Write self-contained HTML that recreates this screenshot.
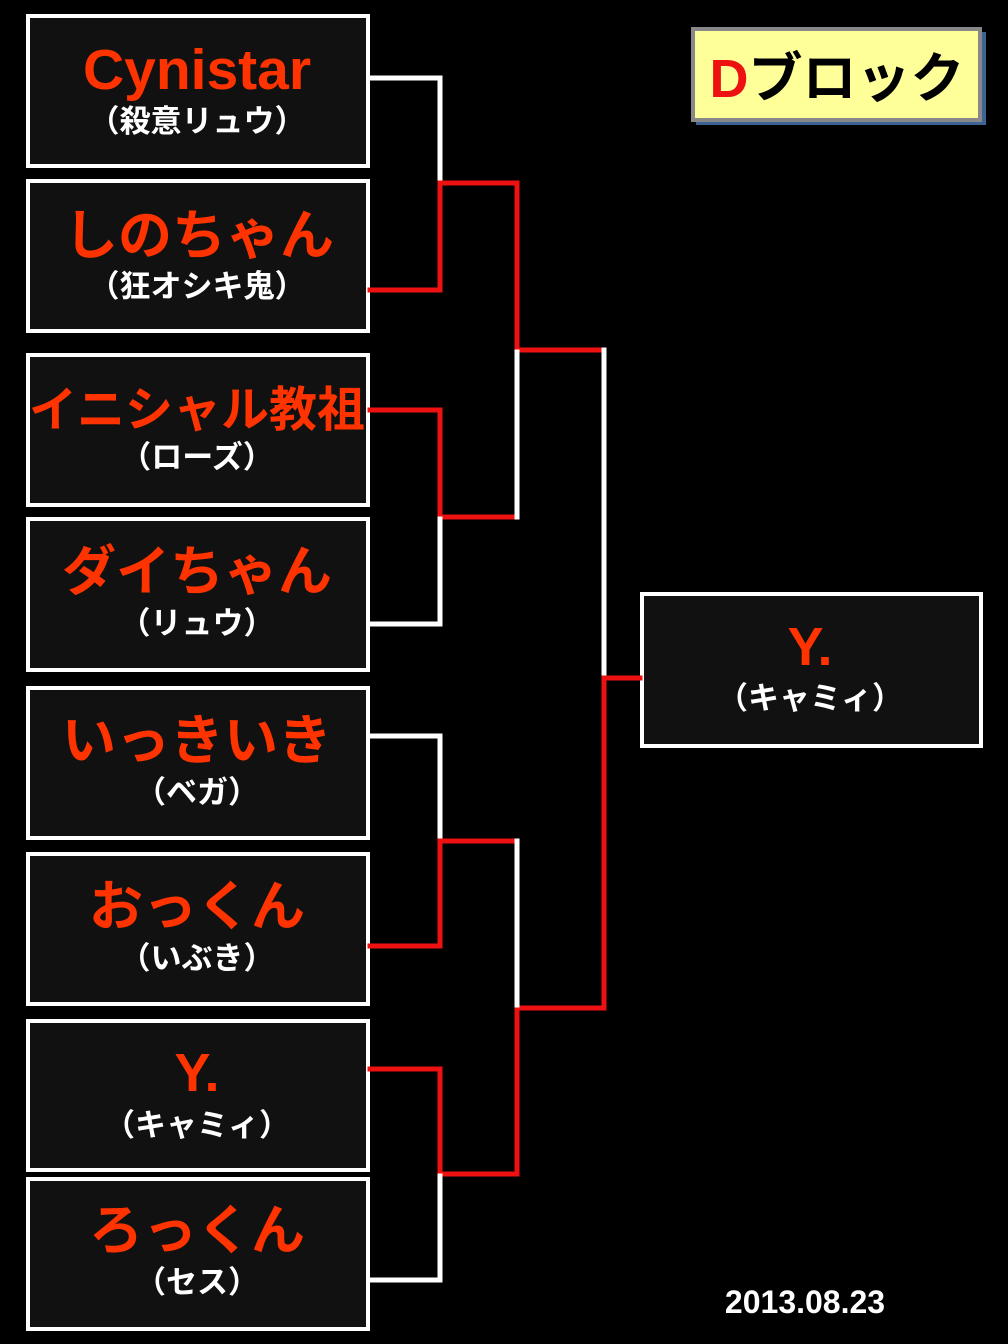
<!DOCTYPE html>
<html><head><meta charset="utf-8"><style>
html,body{margin:0;padding:0;background:#000;}
svg{display:block}
.n{font-family:"Liberation Sans","Noto Sans CJK JP",sans-serif;font-weight:bold;font-size:54px;fill:#ff3300;text-anchor:middle}
.s{font-family:"Liberation Sans","Noto Sans CJK JP",sans-serif;font-weight:bold;font-size:31px;fill:#fff;text-anchor:middle}
</style></head><body>
<svg width="1008" height="1344" xmlns="http://www.w3.org/2000/svg">
<rect width="1008" height="1344" fill="#000"/>
<g fill="#111" stroke="#fff" stroke-width="4">
<rect x="28" y="16" width="340" height="150"/>
<rect x="28" y="181" width="340" height="150"/>
<rect x="28" y="355" width="340" height="150"/>
<rect x="28" y="519" width="340" height="151"/>
<rect x="28" y="688" width="340" height="150"/>
<rect x="28" y="854" width="340" height="150"/>
<rect x="28" y="1021" width="340" height="149"/>
<rect x="28" y="1179" width="340" height="150"/>
<rect x="642" y="594" width="339" height="152"/>
</g>
<g fill="none" stroke-width="5" stroke-linecap="square">
<polyline stroke="#fff" points="370,78 440,78 440,183"/>
<polyline stroke="#ee1111" points="370,290 440,290 440,183 517,183 517,350 604,350"/>
<polyline stroke="#ee1111" points="370,410 440,410 440,517 517,517"/>
<polyline stroke="#fff" points="370,624 440,624 440,519"/>
<polyline stroke="#fff" points="517,517 517,352"/>
<polyline stroke="#fff" points="604,350 604,678"/>
<polyline stroke="#ee1111" points="640,678 604,678 604,1008 519,1008"/>
<polyline stroke="#fff" points="370,736 440,736 440,841"/>
<polyline stroke="#ee1111" points="370,946 440,946 440,841 517,841"/>
<polyline stroke="#fff" points="517,841 517,1008"/>
<polyline stroke="#ee1111" points="370,1069 440,1069 440,1174 517,1174 517,1010"/>
<polyline stroke="#fff" points="370,1280 440,1280 440,1176"/>
</g>
<text class="n" x="197" y="89" style="font-size:57px">Cynistar</text><text class="s" x="197" y="132">（殺意リュウ）</text>
<text class="n" x="199" y="254">しのちゃん</text><text class="s" x="197" y="297">（狂オシキ鬼）</text>
<text class="n" x="197" y="426" style="font-size:48px">イニシャル教祖</text><text class="s" x="197" y="468">（ローズ）</text>
<text class="n" x="197" y="590">ダイちゃん</text><text class="s" x="197" y="634">（リュウ）</text>
<text class="n" x="197" y="759">いっきいき</text><text class="s" x="197" y="803">（ベガ）</text>
<text class="n" x="197" y="925">おっくん</text><text class="s" x="197" y="969">（いぶき）</text>
<text class="n" x="197" y="1091">Y.</text><text class="s" x="197" y="1136">（キャミィ）</text>
<text class="n" x="197" y="1249">ろっくん</text><text class="s" x="197" y="1293">（セス）</text>
<text class="n" x="810" y="665">Y.</text><text class="s" x="810" y="709">（キャミィ）</text>
<rect x="696" y="32" width="290" height="93" fill="#3e6495"/>
<rect x="693" y="29" width="287" height="91" fill="#ffff99" stroke="#888" stroke-width="4"/>
<text x="837" y="97" text-anchor="middle" style="font-family:'Liberation Sans','Noto Sans CJK JP',sans-serif;font-weight:bold;font-size:54px"><tspan fill="#ee1111">D</tspan><tspan fill="#000">ブロック</tspan></text>
<text x="805" y="1313" text-anchor="middle" style="font-family:'Liberation Sans',sans-serif;font-weight:bold;font-size:32px" fill="#fff">2013.08.23</text>
</svg>
</body></html>
